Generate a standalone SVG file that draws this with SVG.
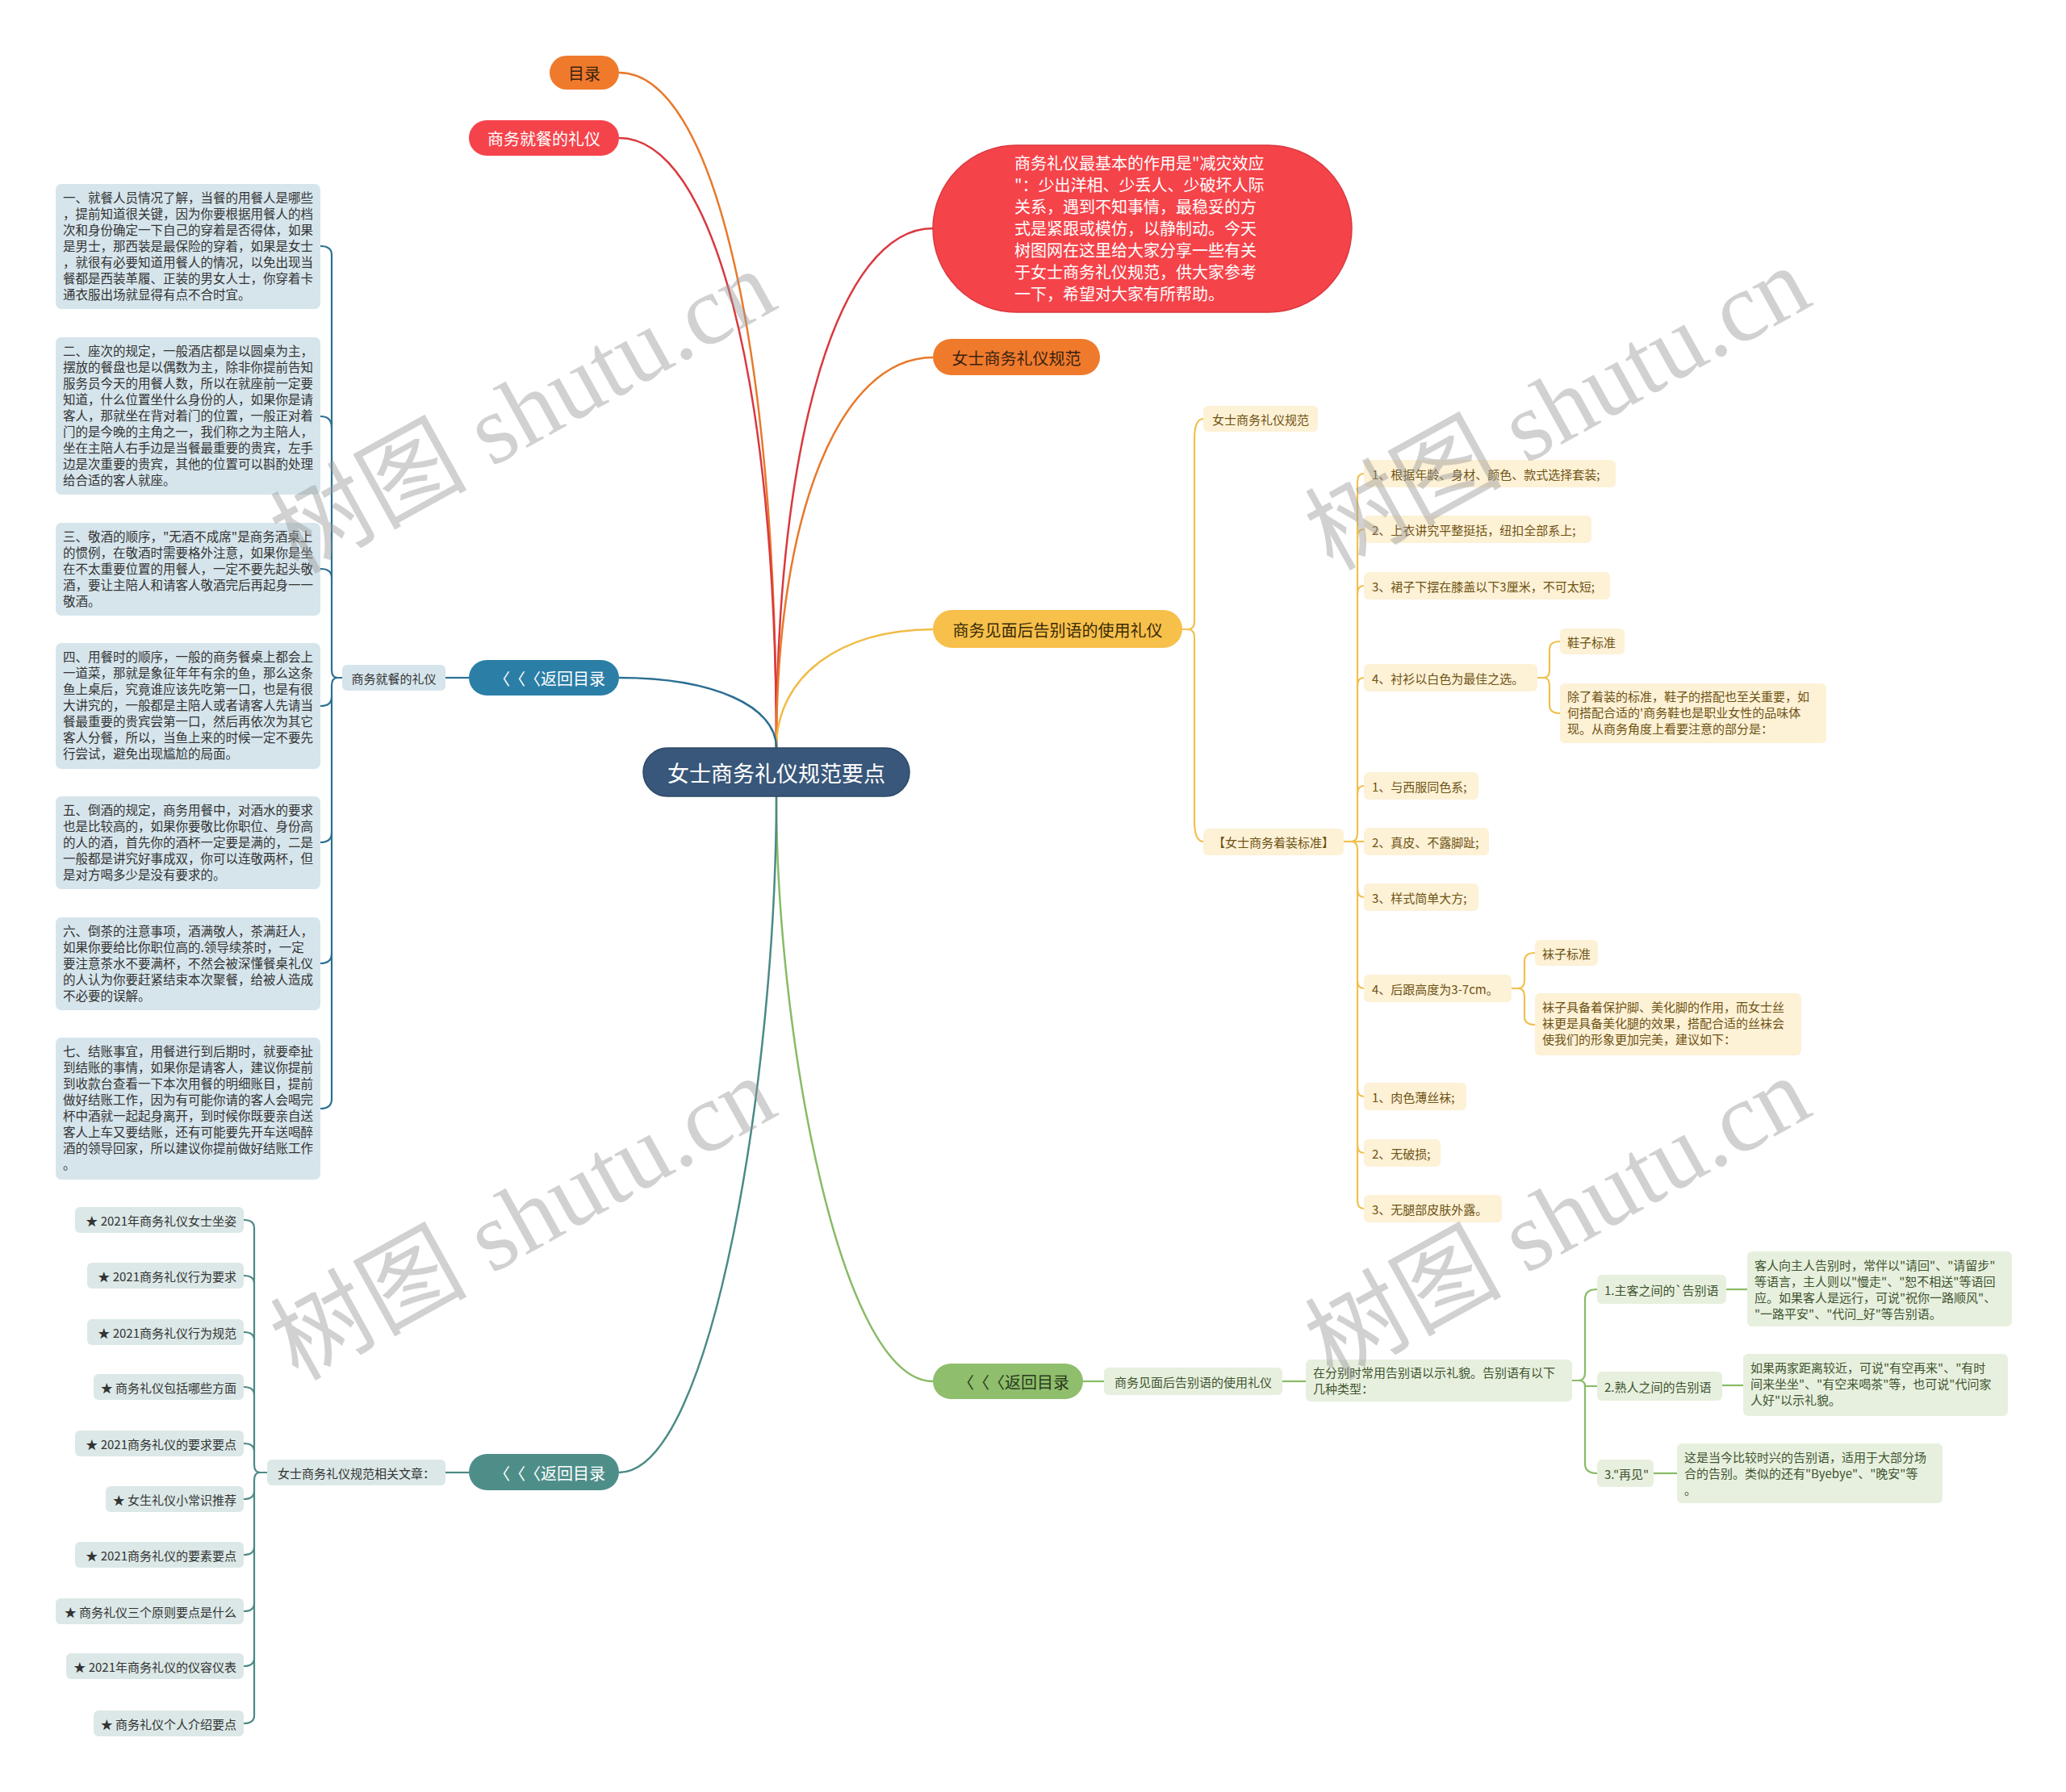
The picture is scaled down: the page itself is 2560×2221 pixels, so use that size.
<svg xmlns="http://www.w3.org/2000/svg" width="2560" height="2221" viewBox="0 0 2560 2221">
<style>
text{font-family:"Noto Sans CJK SC","Noto Sans",sans-serif}
.c{text-anchor:middle;dominant-baseline:central}
.l{dominant-baseline:central}
.e{text-anchor:end;dominant-baseline:central}
.main{fill:none;stroke-width:2.5}
.sub{fill:none;stroke-width:2.2}
.bluebox{fill:#d6e5ec}
.bt{font-size:15.5px;fill:#333}
.tealbox{fill:#dbe8e7}
.tt{font-size:15px;fill:#333}
.ybox{fill:#fdf1d6}
.yt{font-size:15px;fill:#6e5314}
.gbox{fill:#e7f0de}
.gt{font-size:15px;fill:#3f5430}
.sp{letter-spacing:9px}
.wm{font-family:"Liberation Serif","Noto Sans CJK SC",serif;font-size:122px;fill:#9a9a9a;fill-opacity:0.45;text-anchor:middle;dominant-baseline:central}
</style>
<rect width="2560" height="2221" fill="#ffffff"/>

<g id="connectors">
  <path class="main" stroke="#e8792c" d="M767,90 C884,90 962,425 962,927"/>
  <path class="main" stroke="#d9393f" d="M767,171 C884,171 962,473 962,927"/>
  <path class="main" stroke="#d9393f" d="M1156,283 C1040,283 962,541 962,927"/>
  <path class="main" stroke="#e8792c" d="M1156,443 C1040,443 962,637 962,927"/>
  <path class="main" stroke="#f0bd48" d="M1156,780 C1040,780 962,839 962,927"/>
  <path class="main" stroke="#2b6f92" d="M767,840 C884,840 962,875 962,927"/>
  <path class="main" stroke="#88bb66" d="M1156,1712 C1040,1712 962,1277 962,987"/>
  <path class="main" stroke="#4b8a85" d="M767,1825 C884,1825 962,1322 962,987"/>

  <path class="sub" stroke="#2b6f92" d="M552,840 H581"/>
  <g class="sub" stroke="#2b6f92">
    <path d="M424,840 H418 Q411,840 411,830 V316 Q411,305 397,305"/>
    <path d="M411,530 Q411,516 397,516"/>
    <path d="M411,716 Q411,705 397,705"/>
    <path d="M411,864 Q411,875 397,875"/>
    <path d="M424,840 H418 Q411,840 411,850 V1362 Q411,1374 397,1374"/>
    <path d="M411,1032 Q411,1044 397,1044"/>
    <path d="M411,1182 Q411,1194 397,1194"/>
  </g>

  <path class="sub" stroke="#4b8a85" d="M552,1825 H581"/>
  <g class="sub" stroke="#4b8a85">
    <path d="M331,1825 H322 Q315,1825 315,1815 V1522 Q315,1512 302,1512"/>
    <path d="M315,1591 Q315,1581 302,1581"/>
    <path d="M315,1661 Q315,1651 302,1651"/>
    <path d="M315,1729 Q315,1719 302,1719"/>
    <path d="M315,1799 Q315,1789 302,1789"/>
    <path d="M331,1825 H322 Q315,1825 315,1835 V2126 Q315,2136 302,2136"/>
    <path d="M315,1848 Q315,1858 302,1858"/>
    <path d="M315,1917 Q315,1927 302,1927"/>
    <path d="M315,1987 Q315,1997 302,1997"/>
    <path d="M315,2055 Q315,2065 302,2065"/>
  </g>

  <g class="sub" stroke="#f0c04e">
    <path d="M1465,780 H1472 Q1480,780 1480,770 V545 Q1480,519 1491,519"/>
    <path d="M1465,780 H1472 Q1480,780 1480,790 V1017 Q1480,1043 1491,1043"/>
    <path d="M1665,1043 H1690"/>
    <path d="M1665,1043 H1674 Q1682,1043 1682,1033 V597 Q1682,587 1690,587"/>
    <path d="M1682,666 Q1682,656 1690,656"/>
    <path d="M1682,736 Q1682,726 1690,726"/>
    <path d="M1682,850 Q1682,840 1690,840"/>
    <path d="M1682,984 Q1682,974 1690,974"/>
    <path d="M1665,1043 H1674 Q1682,1043 1682,1053 V1488 Q1682,1498 1690,1498"/>
    <path d="M1682,1102 Q1682,1112 1690,1112"/>
    <path d="M1682,1215 Q1682,1225 1690,1225"/>
    <path d="M1682,1349 Q1682,1359 1690,1359"/>
    <path d="M1682,1419 Q1682,1429 1690,1429"/>
    <path d="M1905,840 H1913 Q1920,840 1920,830 V805 Q1920,795 1933,795"/>
    <path d="M1905,840 H1913 Q1920,840 1920,850 V874 Q1920,884 1933,884"/>
    <path d="M1873,1225 H1881 Q1889,1225 1889,1215 V1191 Q1889,1181 1902,1181"/>
    <path d="M1873,1225 H1881 Q1889,1225 1889,1235 V1260 Q1889,1270 1902,1270"/>
  </g>

  <g class="sub" stroke="#88bb66">
    <path d="M1342,1712 H1368"/>
    <path d="M1589,1712 H1618"/>
    <path d="M1948,1711 H1956 Q1964,1711 1964,1701 V1610 Q1964,1598 1979,1598"/>
    <path d="M1948,1711 H1956 Q1964,1711 1964,1718 H1979"/>
    <path d="M1964,1718 V1814 Q1964,1826 1979,1826"/>
    <path d="M2139,1598 H2165"/>
    <path d="M2134,1717 H2160"/>
    <path d="M2049,1826 H2078"/>
  </g>
</g>

<g id="center">
  <rect x="797" y="927" width="330" height="60" rx="30" fill="#39577a" stroke="#2d4866" stroke-width="1.5"/>
  <text class="c" x="962" y="957" font-size="27" fill="#ffffff">女士商务礼仪规范要点</text>
</g>

<g id="n-mulu">
  <rect x="681" y="69" width="86" height="42" rx="21" fill="#f07a2c"/>
  <text class="c" x="724" y="90" font-size="20" fill="#3a2210">目录</text>
</g>
<g id="n-jiucan">
  <rect x="581" y="149" width="186" height="44" rx="22" fill="#f5434b"/>
  <text class="c" x="674" y="171" font-size="20" fill="#ffffff">商务就餐的礼仪</text>
</g>
<g id="n-intro">
  <rect x="1156" y="180" width="519" height="207" rx="103.5" fill="#f5434a" stroke="#d93a40" stroke-width="1.5"/>
  <text font-size="20" fill="#ffffff">
    <tspan x="1257" y="210">商务礼仪最基本的作用是"减灾效应</tspan>
    <tspan x="1257" y="237">"：少出洋相、少丢人、少破坏人际</tspan>
    <tspan x="1257" y="264">关系，遇到不知事情，最稳妥的方</tspan>
    <tspan x="1257" y="291">式是紧跟或模仿，以静制动。今天</tspan>
    <tspan x="1257" y="318">树图网在这里给大家分享一些有关</tspan>
    <tspan x="1257" y="345">于女士商务礼仪规范，供大家参考</tspan>
    <tspan x="1257" y="372">一下，希望对大家有所帮助。</tspan>
  </text>
</g>
<g id="n-guifan">
  <rect x="1156" y="420" width="207" height="45" rx="22.5" fill="#f07a2c"/>
  <text class="c" x="1259.5" y="443" font-size="20" fill="#3a2210">女士商务礼仪规范</text>
</g>
<g id="n-gaobie">
  <rect x="1156" y="756" width="309" height="47" rx="23.5" fill="#f7c04a"/>
  <text class="c" x="1310.5" y="780" font-size="20" fill="#3a2a08">商务见面后告别语的使用礼仪</text>
</g>
<g id="n-back-blue">
  <rect x="581" y="818" width="186" height="44" rx="22" fill="#2b7ea6"/>
  <text class="l" x="612" y="840" font-size="20" fill="#ffffff"><tspan class="sp">〈〈</tspan>〈返回目录</text>
</g>
<g id="n-back-green">
  <rect x="1156" y="1690" width="186" height="44" rx="22" fill="#8fbe6c"/>
  <text class="l" x="1187" y="1712" font-size="20" fill="#2b3a1c"><tspan class="sp">〈〈</tspan>〈返回目录</text>
</g>
<g id="n-back-teal">
  <rect x="581" y="1802" width="186" height="45" rx="22.5" fill="#4e8e89"/>
  <text class="l" x="612" y="1825" font-size="20" fill="#ffffff"><tspan class="sp">〈〈</tspan>〈返回目录</text>
</g>

<g id="n-jiucan-sub">
  <rect class="bluebox" x="424" y="824" width="128" height="32" rx="6"/>
  <text class="c" x="488" y="840" font-size="15" fill="#333">商务就餐的礼仪</text>
</g>
<g id="n-box1">
  <rect class="bluebox" x="69" y="228" width="328" height="155" rx="7"/>
  <text class="bt"><tspan x="78" y="251">一、就餐人员情况了解，当餐的用餐人是哪些</tspan><tspan x="78" y="271">，提前知道很关键，因为你要根据用餐人的档</tspan><tspan x="78" y="291">次和身份确定一下自己的穿着是否得体，如果</tspan><tspan x="78" y="311">是男士，那西装是最保险的穿着，如果是女士</tspan><tspan x="78" y="331">，就很有必要知道用餐人的情况，以免出现当</tspan><tspan x="78" y="351">餐都是西装革履、正装的男女人士，你穿着卡</tspan><tspan x="78" y="371">通衣服出场就显得有点不合时宜。</tspan></text>
</g>
<g id="n-box2">
  <rect class="bluebox" x="69" y="418" width="328" height="195" rx="7"/>
  <text class="bt"><tspan x="78" y="441">二、座次的规定，一般酒店都是以圆桌为主，</tspan><tspan x="78" y="461">摆放的餐盘也是以偶数为主，除非你提前告知</tspan><tspan x="78" y="481">服务员今天的用餐人数，所以在就座前一定要</tspan><tspan x="78" y="501">知道，什么位置坐什么身份的人，如果你是请</tspan><tspan x="78" y="521">客人，那就坐在背对着门的位置，一般正对着</tspan><tspan x="78" y="541">门的是今晚的主角之一，我们称之为主陪人，</tspan><tspan x="78" y="561">坐在主陪人右手边是当餐最重要的贵宾，左手</tspan><tspan x="78" y="581">边是次重要的贵宾，其他的位置可以斟酌处理</tspan><tspan x="78" y="601">给合适的客人就座。</tspan></text>
</g>
<g id="n-box3">
  <rect class="bluebox" x="69" y="648" width="328" height="115" rx="7"/>
  <text class="bt"><tspan x="78" y="671">三、敬酒的顺序，"无酒不成席"是商务酒桌上</tspan><tspan x="78" y="691">的惯例，在敬酒时需要格外注意，如果你是坐</tspan><tspan x="78" y="711">在不太重要位置的用餐人，一定不要先起头敬</tspan><tspan x="78" y="731">酒，要让主陪人和请客人敬酒完后再起身一一</tspan><tspan x="78" y="751">敬酒。</tspan></text>
</g>
<g id="n-box4">
  <rect class="bluebox" x="69" y="797" width="328" height="156" rx="7"/>
  <text class="bt"><tspan x="78" y="820">四、用餐时的顺序，一般的商务餐桌上都会上</tspan><tspan x="78" y="840">一道菜，那就是象征年年有余的鱼，那么这条</tspan><tspan x="78" y="860">鱼上桌后，究竟谁应该先吃第一口，也是有很</tspan><tspan x="78" y="880">大讲究的，一般都是主陪人或者请客人先请当</tspan><tspan x="78" y="900">餐最重要的贵宾尝第一口，然后再依次为其它</tspan><tspan x="78" y="920">客人分餐，所以，当鱼上来的时候一定不要先</tspan><tspan x="78" y="940">行尝试，避免出现尴尬的局面。</tspan></text>
</g>
<g id="n-box5">
  <rect class="bluebox" x="69" y="987" width="328" height="115" rx="7"/>
  <text class="bt"><tspan x="78" y="1010">五、倒酒的规定，商务用餐中，对酒水的要求</tspan><tspan x="78" y="1030">也是比较高的，如果你要敬比你职位、身份高</tspan><tspan x="78" y="1050">的人的酒，首先你的酒杯一定要是满的，二是</tspan><tspan x="78" y="1070">一般都是讲究好事成双，你可以连敬两杯，但</tspan><tspan x="78" y="1090">是对方喝多少是没有要求的。</tspan></text>
</g>
<g id="n-box6">
  <rect class="bluebox" x="69" y="1137" width="328" height="115" rx="7"/>
  <text class="bt"><tspan x="78" y="1160">六、倒茶的注意事项，酒满敬人，茶满赶人，</tspan><tspan x="78" y="1180">如果你要给比你职位高的.领导续茶时，一定</tspan><tspan x="78" y="1200">要注意茶水不要满杯，不然会被深懂餐桌礼仪</tspan><tspan x="78" y="1220">的人认为你要赶紧结束本次聚餐，给被人造成</tspan><tspan x="78" y="1240">不必要的误解。</tspan></text>
</g>
<g id="n-box7">
  <rect class="bluebox" x="69" y="1286" width="328" height="176" rx="7"/>
  <text class="bt"><tspan x="78" y="1309">七、结账事宜，用餐进行到后期时，就要牵扯</tspan><tspan x="78" y="1329">到结账的事情，如果你是请客人，建议你提前</tspan><tspan x="78" y="1349">到收款台查看一下本次用餐的明细账目，提前</tspan><tspan x="78" y="1369">做好结账工作，因为有可能你请的客人会喝完</tspan><tspan x="78" y="1389">杯中酒就一起起身离开，到时候你既要亲自送</tspan><tspan x="78" y="1409">客人上车又要结账，还有可能要先开车送喝醉</tspan><tspan x="78" y="1429">酒的领导回家，所以建议你提前做好结账工作</tspan><tspan x="78" y="1449">。</tspan></text>
</g>

<g id="n-related">
  <rect class="tealbox" x="331" y="1809" width="221" height="32" rx="6"/>
  <text class="c" x="441.5" y="1825" font-size="15" fill="#333">女士商务礼仪规范相关文章：</text>
</g>
<g id="n-a1"><rect class="tealbox" x="93" y="1496" width="209" height="32" rx="6"/><text class="tt e" x="293" y="1512">★ 2021年商务礼仪女士坐姿</text></g>
<g id="n-a2"><rect class="tealbox" x="108" y="1565" width="194" height="32" rx="6"/><text class="tt e" x="293" y="1581">★ 2021商务礼仪行为要求</text></g>
<g id="n-a3"><rect class="tealbox" x="108" y="1635" width="194" height="32" rx="6"/><text class="tt e" x="293" y="1651">★ 2021商务礼仪行为规范</text></g>
<g id="n-a4"><rect class="tealbox" x="116" y="1703" width="186" height="32" rx="6"/><text class="tt e" x="293" y="1719">★ 商务礼仪包括哪些方面</text></g>
<g id="n-a5"><rect class="tealbox" x="93" y="1773" width="209" height="32" rx="6"/><text class="tt e" x="293" y="1789">★ 2021商务礼仪的要求要点</text></g>
<g id="n-a6"><rect class="tealbox" x="131" y="1842" width="171" height="32" rx="6"/><text class="tt e" x="293" y="1858">★ 女生礼仪小常识推荐</text></g>
<g id="n-a7"><rect class="tealbox" x="93" y="1911" width="209" height="32" rx="6"/><text class="tt e" x="293" y="1927">★ 2021商务礼仪的要素要点</text></g>
<g id="n-a8"><rect class="tealbox" x="69" y="1981" width="233" height="32" rx="6"/><text class="tt e" x="293" y="1997">★ 商务礼仪三个原则要点是什么</text></g>
<g id="n-a9"><rect class="tealbox" x="82" y="2049" width="220" height="32" rx="6"/><text class="tt e" x="293" y="2065">★ 2021年商务礼仪的仪容仪表</text></g>
<g id="n-a10"><rect class="tealbox" x="116" y="2120" width="186" height="32" rx="6"/><text class="tt e" x="293" y="2136">★ 商务礼仪个人介绍要点</text></g>

<g id="n-y-guifan"><rect class="ybox" x="1491" y="503" width="142" height="32" rx="6"/><text class="yt c" x="1562" y="519">女士商务礼仪规范</text></g>
<g id="n-y-std"><rect class="ybox" x="1491" y="1027" width="174" height="33" rx="6"/><text class="yt c" x="1578" y="1043">【女士商务着装标准】</text></g>
<g id="n-y1"><rect class="ybox" x="1690" y="570" width="312" height="34" rx="6"/><text class="yt l" x="1700" y="587">1、根据年龄、身材、颜色、款式选择套装;</text></g>
<g id="n-y2"><rect class="ybox" x="1690" y="639" width="282" height="34" rx="6"/><text class="yt l" x="1700" y="656">2、上衣讲究平整挺括，纽扣全部系上;</text></g>
<g id="n-y3"><rect class="ybox" x="1690" y="709" width="305" height="34" rx="6"/><text class="yt l" x="1700" y="726">3、裙子下摆在膝盖以下3厘米，不可太短;</text></g>
<g id="n-y4"><rect class="ybox" x="1690" y="823" width="215" height="34" rx="6"/><text class="yt l" x="1700" y="840">4、衬衫以白色为最佳之选。</text></g>
<g id="n-y4a"><rect class="ybox" x="1933" y="779" width="80" height="32" rx="6"/><text class="yt l" x="1942" y="795">鞋子标准</text></g>
<g id="n-y4b"><rect class="ybox" x="1933" y="847" width="330" height="74" rx="6"/><text class="yt"><tspan x="1942" y="869">除了着装的标准，鞋子的搭配也至关重要，如</tspan><tspan x="1942" y="889">何搭配合适的'商务鞋也是职业女性的品味体</tspan><tspan x="1942" y="909">现。从商务角度上看要注意的部分是：</tspan></text></g>
<g id="n-y5"><rect class="ybox" x="1690" y="957" width="142" height="34" rx="6"/><text class="yt l" x="1700" y="974">1、与西服同色系;</text></g>
<g id="n-y6"><rect class="ybox" x="1690" y="1026" width="155" height="34" rx="6"/><text class="yt l" x="1700" y="1043">2、真皮、不露脚趾;</text></g>
<g id="n-y7"><rect class="ybox" x="1690" y="1095" width="142" height="34" rx="6"/><text class="yt l" x="1700" y="1112">3、样式简单大方;</text></g>
<g id="n-y8"><rect class="ybox" x="1690" y="1208" width="183" height="34" rx="6"/><text class="yt l" x="1700" y="1225">4、后跟高度为3-7cm。</text></g>
<g id="n-y8a"><rect class="ybox" x="1902" y="1165" width="78" height="32" rx="6"/><text class="yt l" x="1911" y="1181">袜子标准</text></g>
<g id="n-y8b"><rect class="ybox" x="1902" y="1231" width="330" height="77" rx="6"/><text class="yt"><tspan x="1911" y="1254">袜子具备着保护脚、美化脚的作用，而女士丝</tspan><tspan x="1911" y="1274">袜更是具备美化腿的效果，搭配合适的丝袜会</tspan><tspan x="1911" y="1294">使我们的形象更加完美，建议如下：</tspan></text></g>
<g id="n-y9"><rect class="ybox" x="1690" y="1342" width="127" height="34" rx="6"/><text class="yt l" x="1700" y="1359">1、肉色薄丝袜;</text></g>
<g id="n-y10"><rect class="ybox" x="1690" y="1412" width="95" height="34" rx="6"/><text class="yt l" x="1700" y="1429">2、无破损;</text></g>
<g id="n-y11"><rect class="ybox" x="1690" y="1481" width="171" height="34" rx="6"/><text class="yt l" x="1700" y="1498">3、无腿部皮肤外露。</text></g>

<g id="n-g-sub"><rect class="gbox" x="1368" y="1695" width="221" height="34" rx="6"/><text class="gt c" x="1478.5" y="1712">商务见面后告别语的使用礼仪</text></g>
<g id="n-g-intro"><rect class="gbox" x="1618" y="1685" width="330" height="52" rx="6"/><text class="gt"><tspan x="1627" y="1707">在分别时常用告别语以示礼貌。告别语有以下</tspan><tspan x="1627" y="1727">几种类型：</tspan></text></g>
<g id="n-g1"><rect class="gbox" x="1979" y="1580" width="160" height="36" rx="6"/><text class="gt l" x="1988" y="1598">1.主客之间的`告别语</text></g>
<g id="n-g1t"><rect class="gbox" x="2165" y="1551" width="328" height="93" rx="6"/><text class="gt"><tspan x="2174" y="1574">客人向主人告别时，常伴以"请回"、"请留步"</tspan><tspan x="2174" y="1594">等语言，主人则以"慢走"、"恕不相送"等语回</tspan><tspan x="2174" y="1614">应。如果客人是远行，可说"祝你一路顺风"、</tspan><tspan x="2174" y="1634">"一路平安"、"代问_好"等告别语。</tspan></text></g>
<g id="n-g2"><rect class="gbox" x="1979" y="1700" width="155" height="36" rx="6"/><text class="gt l" x="1988" y="1718">2.熟人之间的告别语</text></g>
<g id="n-g2t"><rect class="gbox" x="2160" y="1678" width="328" height="77" rx="6"/><text class="gt"><tspan x="2169" y="1701">如果两家距离较近，可说"有空再来"、"有时</tspan><tspan x="2169" y="1721">间来坐坐"、"有空来喝茶"等，也可说"代问家</tspan><tspan x="2169" y="1741">人好"以示礼貌。</tspan></text></g>
<g id="n-g3"><rect class="gbox" x="1979" y="1809" width="70" height="34" rx="6"/><text class="gt l" x="1988" y="1826">3."再见"</text></g>
<g id="n-g3t"><rect class="gbox" x="2078" y="1789" width="329" height="74" rx="6"/><text class="gt"><tspan x="2087" y="1812">这是当今比较时兴的告别语，适用于大部分场</tspan><tspan x="2087" y="1832">合的告别。类似的还有"Byebye"、"晚安"等</tspan><tspan x="2087" y="1852">。</tspan></text></g>

<g id="watermarks">
  <text class="wm" transform="rotate(-29 648 510)" x="648" y="510">树图 shutu.cn</text>
  <text class="wm" transform="rotate(-29 1930 506)" x="1930" y="506">树图 shutu.cn</text>
  <text class="wm" transform="rotate(-29 648 1510)" x="648" y="1510">树图 shutu.cn</text>
  <text class="wm" transform="rotate(-29 1930 1510)" x="1930" y="1510">树图 shutu.cn</text>
</g>
</svg>
